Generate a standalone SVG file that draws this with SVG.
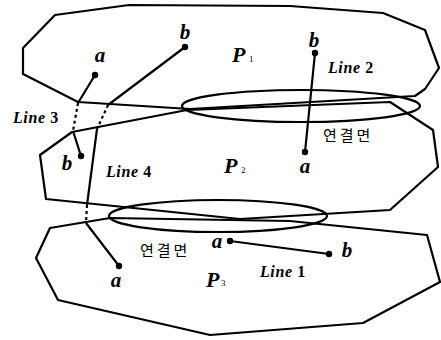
<svg xmlns="http://www.w3.org/2000/svg" width="441" height="340" viewBox="0 0 441 340">
<style>
.poly{fill:none;stroke:#000;stroke-width:2.2;stroke-linejoin:round}
.ln{fill:none;stroke:#000;stroke-width:2.2}
.dash{fill:none;stroke:#000;stroke-width:2.2;stroke-dasharray:3,3}
.dot{fill:#000}
.lt{font-family:"Liberation Serif","Times New Roman",serif;font-weight:bold;font-style:italic;font-size:21px;fill:#000;text-anchor:middle}
.pl{font-family:"Liberation Serif","Times New Roman",serif;font-weight:bold;font-style:italic;font-size:22px;fill:#000}
.sub{font-family:"Liberation Serif","Times New Roman",serif;font-size:9px;fill:#000}
.name{font-family:"Liberation Serif","Times New Roman",serif;font-weight:bold;font-style:italic;font-size:16px;fill:#000;letter-spacing:0.6px}
.num{font-style:normal}
.kr{font-family:"Noto Sans CJK KR","Noto Sans CJK SC",sans-serif;font-size:15px;fill:#000;letter-spacing:3px}
</style>
<g id="P1">
<polygon class="poly" points="129,5 290,6 383,13 425,30 439,68 425,89 415,96 190,109 78,102 23,74 23,48 55,15"/>
<text class="pl" x="232" y="62">P</text><text class="sub" x="249" y="62">1</text>
</g>
<g id="P2">
<polygon class="poly" points="72,132 187,110 390,102 433,130 438,167 390,210 240,219 46,199 40,155"/>
<text class="pl" x="224" y="173">P</text><text class="sub" x="241" y="173">2</text>
</g>
<g id="P3">
<polygon class="poly" points="50,228 110,218 290,221 427,235 440,282 363,323 210,335 58,300 36,258"/>
<text class="pl" x="206" y="287">P</text><text class="sub" x="221" y="286">3</text>
</g>
<g id="face1">
<ellipse class="poly" cx="301" cy="106" rx="119" ry="16"/>
<text class="kr" x="323" y="141">연결면</text>
</g>
<g id="face2">
<ellipse class="poly" cx="218" cy="216" rx="109" ry="16"/>
<text class="kr" x="140" y="256">연결면</text>
</g>
<g id="connectors">
<g id="line1">
<line class="ln" x1="230" y1="241" x2="329" y2="254"/>
<circle class="dot" cx="230" cy="241" r="3.2"/>
<circle class="dot" cx="329" cy="254" r="3.2"/>
</g>
<g id="line2">
<line class="ln" x1="315" y1="53" x2="305" y2="152"/>
<circle class="dot" cx="315" cy="53" r="3.2"/>
<circle class="dot" cx="305" cy="152" r="3.2"/>
</g>
<g id="line3">
<polyline class="ln" points="95,75 78,103"/>
<line class="dash" x1="78" y1="103" x2="73" y2="131"/>
<polyline class="ln" points="73,131 81,156"/>
<circle class="dot" cx="95" cy="75" r="3.2"/>
<circle class="dot" cx="81" cy="156" r="3.2"/>
</g>
<g id="line4">
<line class="ln" x1="185" y1="47" x2="108" y2="105"/>
<line class="dash" x1="108" y1="105" x2="97" y2="129"/>
<line class="ln" x1="97" y1="129" x2="87" y2="205"/>
<line class="dash" x1="87" y1="205" x2="86" y2="223"/>
<line class="ln" x1="86" y1="223" x2="119" y2="266"/>
<circle class="dot" cx="185" cy="47" r="3.2"/>
<circle class="dot" cx="119" cy="266" r="3.2"/>
</g>
</g>
<g id="labels">
<text class="lt" x="100" y="62">a</text>
<text class="lt" x="185" y="39">b</text>
<text class="lt" x="314" y="47">b</text>
<text class="lt" x="305" y="173">a</text>
<text class="lt" x="67" y="170">b</text>
<text class="lt" x="116" y="287">a</text>
<text class="lt" x="217" y="248">a</text>
<text class="lt" x="347" y="257">b</text>
<text class="name" x="13" y="123">Line <tspan class="num">3</tspan></text>
<text class="name" x="106" y="177">Line <tspan class="num">4</tspan></text>
<text class="name" x="328" y="73">Line <tspan class="num">2</tspan></text>
<text class="name" x="260" y="277">Line <tspan class="num">1</tspan></text>
</g>
</svg>
